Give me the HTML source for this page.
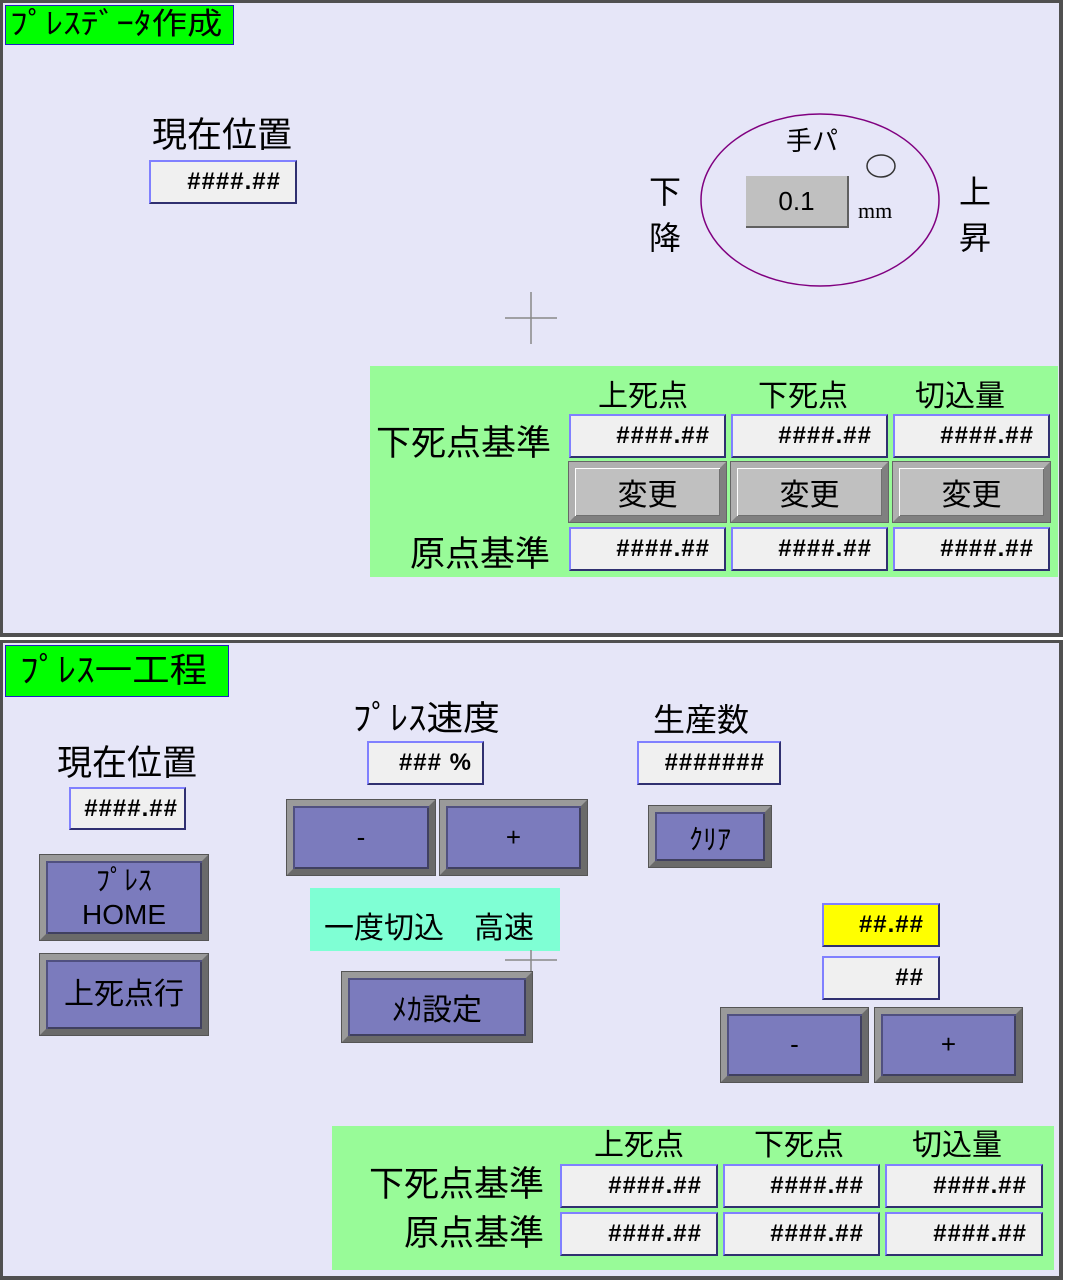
<!DOCTYPE html>
<html><head><meta charset="utf-8">
<style>
*{margin:0;padding:0;box-sizing:border-box}
body{width:1068px;height:1280px;background:#fff;position:relative;overflow:hidden;font-family:"Liberation Sans","Noto Sans CJK JP",sans-serif;color:#000}
.a{position:absolute}
.panel{position:absolute;background:#e6e6f8;border:3px solid #505050;border-right-width:4px;border-bottom-width:4px}
.title{position:absolute;background:#00ff00;border:1px solid #2020c0;font-size:30px;line-height:38px;padding-left:4px;white-space:nowrap;overflow:hidden}
.lbl{position:absolute;white-space:nowrap;line-height:1}
.sx{display:inline-block;transform-origin:left center}
.box{position:absolute;background:#f0f0f0;border:2px solid;border-color:#8080ff #303070 #303070 #8080ff;font-size:24px;font-weight:bold;text-align:right;padding-right:14px;display:flex;align-items:center;justify-content:flex-end;letter-spacing:1px}
.btn{position:absolute;background:#7b7bbd;border:6px solid;border-color:#9a9a9a #6a6a6a #6a6a6a #9a9a9a;box-shadow:inset 2px 2px 0 #505080,inset -2px -2px 0 #404060,0 0 0 1px #555;display:flex;align-items:center;justify-content:center;font-size:26px;text-align:center;line-height:1.2}
.gbtn{position:absolute;background:#c0c0c0;border:6px solid;border-color:#b0b0b0 #808080 #808080 #b0b0b0;box-shadow:inset 1px 1px 0 #fff,inset -1px -1px 0 #707070,0 0 0 1px #666;display:flex;align-items:center;justify-content:center;font-size:30px}
.green{position:absolute;background:#98fb98}
</style></head><body>

<div class="panel" style="left:0;top:0;width:1063px;height:637px"></div>
<div class="panel" style="left:0;top:640px;width:1063px;height:640px"></div>

<!-- top panel -->
<div class="title" style="left:5px;top:5px;width:229px;height:40px"><span class="sx" style="transform:scaleX(1.18)">ﾌﾟﾚｽﾃﾞｰﾀ作成</span></div>
<div class="lbl" style="left:152px;top:118px;font-size:35px">現在位置</div>
<div class="box" style="left:149px;top:160px;width:148px;height:44px">####.##</div>

<svg class="a" style="left:0;top:0" width="1068" height="640">
<ellipse cx="820" cy="200" rx="119" ry="86" fill="none" stroke="#800080" stroke-width="1.5"/>
<ellipse cx="881" cy="166" rx="14" ry="11" fill="none" stroke="#333" stroke-width="1.5"/>
<line x1="505" y1="318" x2="557" y2="318" stroke="#888" stroke-width="1.5"/>
<line x1="531" y1="292" x2="531" y2="344" stroke="#888" stroke-width="1.5"/>
</svg>
<div class="lbl" style="left:786px;top:128px;font-size:26px">手パ</div>
<div class="a" style="left:746px;top:176px;width:103px;height:52px;background:#c0c0c0;border-right:2px solid #606060;border-bottom:2px solid #606060;font-size:26px;display:flex;align-items:center;justify-content:center">0.1</div>
<div class="lbl" style="left:858px;top:200px;font-size:22px;font-family:'Liberation Serif',serif">mm</div>
<div class="lbl" style="left:649px;top:176px;font-size:32px">下</div>
<div class="lbl" style="left:649px;top:222px;font-size:32px">降</div>
<div class="lbl" style="left:959px;top:176px;font-size:32px">上</div>
<div class="lbl" style="left:959px;top:222px;font-size:32px">昇</div>

<div class="green" style="left:370px;top:366px;width:688px;height:211px"></div>
<div class="lbl" style="left:598px;top:382px;font-size:30px">上死点</div>
<div class="lbl" style="left:758px;top:382px;font-size:30px">下死点</div>
<div class="lbl" style="left:915px;top:382px;font-size:30px">切込量</div>
<div class="lbl" style="left:376px;top:426px;font-size:35px">下死点基準</div>
<div class="lbl" style="left:410px;top:537px;font-size:35px">原点基準</div>
<div class="box" style="left:569px;top:414px;width:157px;height:44px">####.##</div>
<div class="box" style="left:731px;top:414px;width:157px;height:44px">####.##</div>
<div class="box" style="left:893px;top:414px;width:157px;height:44px">####.##</div>
<div class="gbtn" style="left:569px;top:462px;width:157px;height:60px">変更</div>
<div class="gbtn" style="left:731px;top:462px;width:157px;height:60px">変更</div>
<div class="gbtn" style="left:893px;top:462px;width:157px;height:60px">変更</div>
<div class="box" style="left:569px;top:527px;width:157px;height:44px">####.##</div>
<div class="box" style="left:731px;top:527px;width:157px;height:44px">####.##</div>
<div class="box" style="left:893px;top:527px;width:157px;height:44px">####.##</div>

<!-- bottom panel -->
<div class="title" style="left:5px;top:645px;width:224px;height:52px;font-size:34px;line-height:50px;padding-left:14px"><span class="sx" style="transform:scaleX(1.1)">ﾌﾟﾚｽ一工程</span></div>
<div class="lbl" style="left:57px;top:746px;font-size:35px">現在位置</div>
<div class="box" style="left:69px;top:787px;width:117px;height:43px;padding-right:6px">####.##</div>
<div class="btn" style="left:40px;top:855px;width:168px;height:85px;font-size:28px">ﾌﾟﾚｽ<br>HOME</div>
<div class="btn" style="left:40px;top:954px;width:168px;height:81px;font-size:30px">上死点行</div>

<div class="lbl" style="left:353px;top:702px;font-size:34px"><span class="sx" style="transform:scaleX(1.08)">ﾌﾟﾚｽ速度</span></div>
<div class="box" style="left:367px;top:741px;width:117px;height:44px;padding-right:10px">### %</div>
<div class="btn" style="left:287px;top:800px;width:148px;height:75px">-</div>
<div class="btn" style="left:440px;top:800px;width:147px;height:75px">+</div>
<div class="a" style="left:310px;top:888px;width:250px;height:63px;background:#7fffd4;font-size:30px;line-height:82px;padding-left:14px;white-space:nowrap">一度切込　高速</div>
<svg class="a" style="left:500px;top:945px" width="70" height="30">
<line x1="5" y1="15" x2="57" y2="15" stroke="#888" stroke-width="1.5"/>
<line x1="31" y1="5" x2="31" y2="27" stroke="#888" stroke-width="1.5"/>
</svg>
<div class="btn" style="left:342px;top:972px;width:190px;height:70px;font-size:30px;padding-top:8px">ﾒｶ設定</div>

<div class="lbl" style="left:653px;top:704px;font-size:32px">生産数</div>
<div class="box" style="left:637px;top:741px;width:144px;height:44px">#######</div>
<div class="btn" style="left:649px;top:806px;width:122px;height:61px;padding-top:6px;font-size:28px">ｸﾘｱ</div>

<div class="box" style="left:822px;top:903px;width:118px;height:44px;background:#ffff00">##.##</div>
<div class="box" style="left:822px;top:956px;width:118px;height:44px">##</div>
<div class="btn" style="left:721px;top:1008px;width:147px;height:74px">-</div>
<div class="btn" style="left:875px;top:1008px;width:147px;height:74px">+</div>

<div class="green" style="left:332px;top:1126px;width:722px;height:144px"></div>
<div class="lbl" style="left:594px;top:1131px;font-size:30px">上死点</div>
<div class="lbl" style="left:754px;top:1131px;font-size:30px">下死点</div>
<div class="lbl" style="left:912px;top:1131px;font-size:30px">切込量</div>
<div class="lbl" style="left:369px;top:1167px;font-size:35px">下死点基準</div>
<div class="lbl" style="left:404px;top:1216px;font-size:35px">原点基準</div>
<div class="box" style="left:560px;top:1164px;width:158px;height:44px">####.##</div>
<div class="box" style="left:723px;top:1164px;width:157px;height:44px">####.##</div>
<div class="box" style="left:885px;top:1164px;width:158px;height:44px">####.##</div>
<div class="box" style="left:560px;top:1212px;width:158px;height:44px">####.##</div>
<div class="box" style="left:723px;top:1212px;width:157px;height:44px">####.##</div>
<div class="box" style="left:885px;top:1212px;width:158px;height:44px">####.##</div>

</body></html>
